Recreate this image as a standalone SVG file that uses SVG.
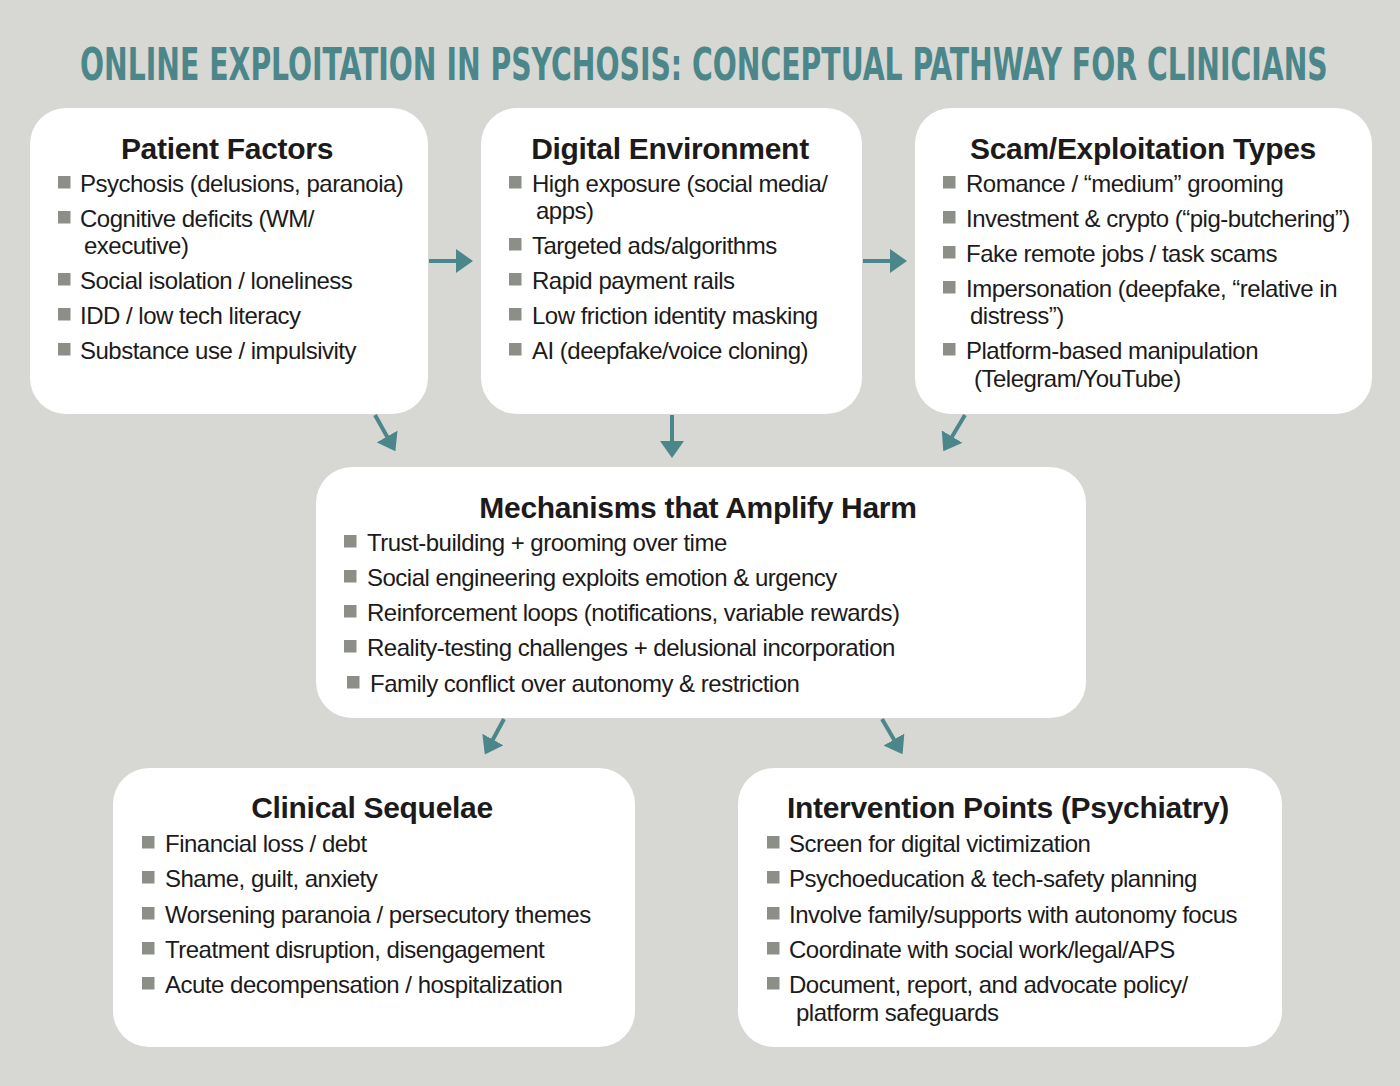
<svg xmlns="http://www.w3.org/2000/svg" width="1400" height="1086" viewBox="0 0 1400 1086">
<defs>
<style>
.bg{fill:#d7d8d3}
.box{fill:#ffffff}
.title{font-family:"DejaVu Sans Condensed","Liberation Sans Narrow","Liberation Sans",sans-serif;font-stretch:condensed;font-weight:bold;font-size:45px;fill:#4b878a}
.hd{font-family:"Liberation Sans",Arial,sans-serif;font-weight:bold;font-size:30px;fill:#1c1a1a;text-anchor:middle;letter-spacing:-0.3px}
.it{font-family:"Liberation Sans",Arial,sans-serif;font-size:24px;fill:#1c1a1a;letter-spacing:-0.5px}
.bl{fill:#8c8f88}
.conn line{stroke:#4b878a;stroke-width:4;fill:none}
</style>
<marker id="ah" markerUnits="userSpaceOnUse" markerWidth="17" markerHeight="24" refX="4" refY="12" orient="auto">
<path d="M0,0 L17,12 L0,24 z" fill="#4b878a"/>
</marker>
</defs>
<rect class="bg" x="0" y="0" width="1400" height="1086"/>
<g transform="translate(80,80) scale(0.72,1)">
<text class="title" x="0" y="0" textLength="1733" lengthAdjust="spacingAndGlyphs">ONLINE EXPLOITATION IN PSYCHOSIS: CONCEPTUAL PATHWAY FOR CLINICIANS</text>
</g>

<g id="patient-factors">
<rect class="box" x="30" y="108" width="398" height="306" rx="36"/>
<text class="hd" x="227" y="159">Patient Factors</text>
<rect class="bl" x="58" y="176" width="12.5" height="12.5"/><text class="it" x="80" y="192">Psychosis (delusions, paranoia)</text>
<rect class="bl" x="58" y="211" width="12.5" height="12.5"/><text class="it" x="80" y="227">Cognitive deficits (WM/</text>
<text class="it" x="84" y="254">executive)</text>
<rect class="bl" x="58" y="273" width="12.5" height="12.5"/><text class="it" x="80" y="289">Social isolation / loneliness</text>
<rect class="bl" x="58" y="308" width="12.5" height="12.5"/><text class="it" x="80" y="324">IDD / low tech literacy</text>
<rect class="bl" x="58" y="343" width="12.5" height="12.5"/><text class="it" x="80" y="359">Substance use / impulsivity</text>
</g>

<g id="digital-environment">
<rect class="box" x="481" y="108" width="381" height="306" rx="36"/>
<text class="hd" x="670" y="159">Digital Environment</text>
<rect class="bl" x="509" y="176" width="12.5" height="12.5"/><text class="it" x="532" y="192">High exposure (social media/</text>
<text class="it" x="536" y="219">apps)</text>
<rect class="bl" x="509" y="238" width="12.5" height="12.5"/><text class="it" x="532" y="254">Targeted ads/algorithms</text>
<rect class="bl" x="509" y="273" width="12.5" height="12.5"/><text class="it" x="532" y="289">Rapid payment rails</text>
<rect class="bl" x="509" y="308" width="12.5" height="12.5"/><text class="it" x="532" y="324">Low friction identity masking</text>
<rect class="bl" x="509" y="343" width="12.5" height="12.5"/><text class="it" x="532" y="359">AI (deepfake/voice cloning)</text>
</g>

<g id="scam-types">
<rect class="box" x="915" y="108" width="457" height="306" rx="36"/>
<text class="hd" x="1143" y="159">Scam/Exploitation Types</text>
<rect class="bl" x="943" y="176" width="12.5" height="12.5"/><text class="it" x="966" y="192">Romance / “medium” grooming</text>
<rect class="bl" x="943" y="211" width="12.5" height="12.5"/><text class="it" x="966" y="227">Investment &amp; crypto (“pig-butchering”)</text>
<rect class="bl" x="943" y="246" width="12.5" height="12.5"/><text class="it" x="966" y="262">Fake remote jobs / task scams</text>
<rect class="bl" x="943" y="281" width="12.5" height="12.5"/><text class="it" x="966" y="297">Impersonation (deepfake, “relative in</text>
<text class="it" x="970" y="324">distress”)</text>
<rect class="bl" x="943" y="343" width="12.5" height="12.5"/><text class="it" x="966" y="359">Platform-based manipulation</text>
<text class="it" x="974" y="387">(Telegram/YouTube)</text>
</g>

<g id="mechanisms">
<rect class="box" x="316" y="467" width="770" height="251" rx="36"/>
<text class="hd" x="698" y="518">Mechanisms that Amplify Harm</text>
<rect class="bl" x="344" y="535" width="12.5" height="12.5"/><text class="it" x="367" y="551">Trust-building + grooming over time</text>
<rect class="bl" x="344" y="570" width="12.5" height="12.5"/><text class="it" x="367" y="586">Social engineering exploits emotion &amp; urgency</text>
<rect class="bl" x="344" y="605" width="12.5" height="12.5"/><text class="it" x="367" y="621">Reinforcement loops (notifications, variable rewards)</text>
<rect class="bl" x="344" y="640" width="12.5" height="12.5"/><text class="it" x="367" y="656">Reality-testing challenges + delusional incorporation</text>
<rect class="bl" x="347" y="676" width="12.5" height="12.5"/><text class="it" x="370" y="692">Family conflict over autonomy &amp; restriction</text>
</g>

<g id="clinical-sequelae">
<rect class="box" x="113" y="768" width="522" height="279" rx="36"/>
<text class="hd" x="372" y="818">Clinical Sequelae</text>
<rect class="bl" x="142" y="836" width="12.5" height="12.5"/><text class="it" x="165" y="852">Financial loss / debt</text>
<rect class="bl" x="142" y="871" width="12.5" height="12.5"/><text class="it" x="165" y="887">Shame, guilt, anxiety</text>
<rect class="bl" x="142" y="907" width="12.5" height="12.5"/><text class="it" x="165" y="923">Worsening paranoia / persecutory themes</text>
<rect class="bl" x="142" y="942" width="12.5" height="12.5"/><text class="it" x="165" y="958">Treatment disruption, disengagement</text>
<rect class="bl" x="142" y="977" width="12.5" height="12.5"/><text class="it" x="165" y="993">Acute decompensation / hospitalization</text>
</g>

<g id="intervention-points">
<rect class="box" x="738" y="768" width="544" height="279" rx="36"/>
<text class="hd" x="1008" y="818">Intervention Points (Psychiatry)</text>
<rect class="bl" x="767" y="836" width="12.5" height="12.5"/><text class="it" x="789" y="852">Screen for digital victimization</text>
<rect class="bl" x="767" y="871" width="12.5" height="12.5"/><text class="it" x="789" y="887">Psychoeducation &amp; tech-safety planning</text>
<rect class="bl" x="767" y="907" width="12.5" height="12.5"/><text class="it" x="789" y="923">Involve family/supports with autonomy focus</text>
<rect class="bl" x="767" y="942" width="12.5" height="12.5"/><text class="it" x="789" y="958">Coordinate with social work/legal/APS</text>
<rect class="bl" x="767" y="977" width="12.5" height="12.5"/><text class="it" x="789" y="993">Document, report, and advocate policy/</text>
<text class="it" x="796" y="1021">platform safeguards</text>
</g>

<g id="connectors" class="conn">
<line x1="429" y1="261" x2="460" y2="261" marker-end="url(#ah)"/>
<line x1="863" y1="261" x2="894" y2="261" marker-end="url(#ah)"/>
<line x1="375" y1="415" x2="389" y2="440" marker-end="url(#ah)"/>
<line x1="672" y1="415" x2="672" y2="445" marker-end="url(#ah)"/>
<line x1="965" y1="415" x2="950" y2="440" marker-end="url(#ah)"/>
<line x1="504" y1="719" x2="491" y2="743" marker-end="url(#ah)"/>
<line x1="882" y1="719" x2="896" y2="743" marker-end="url(#ah)"/>
</g>
</svg>
